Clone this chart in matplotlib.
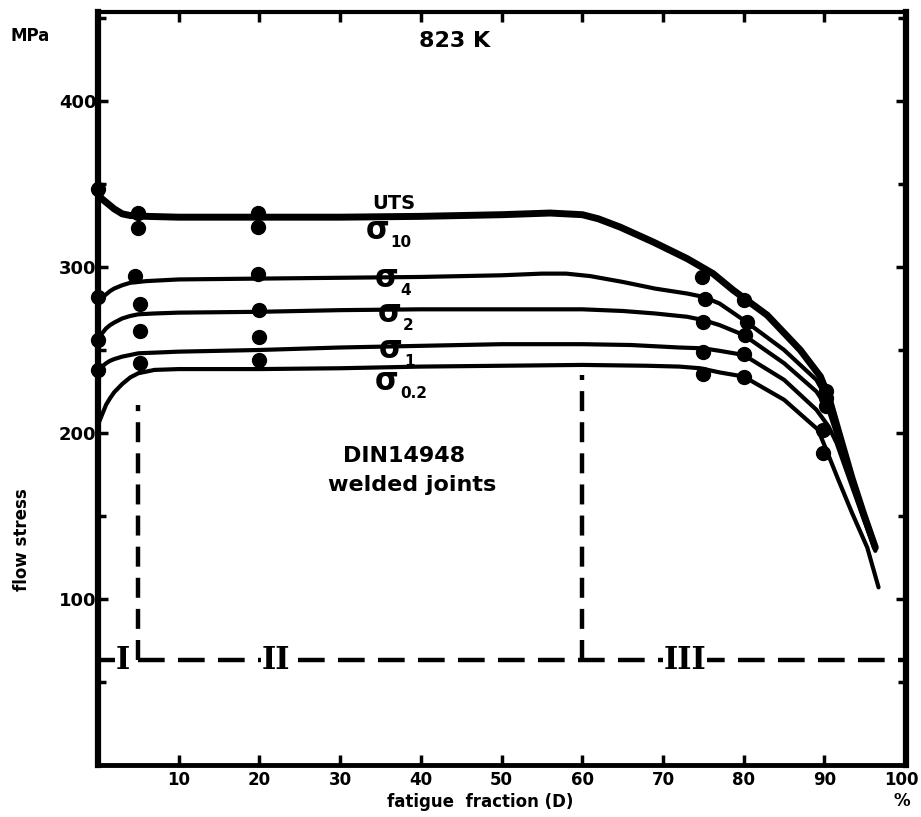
import numpy as np
import matplotlib.pyplot as plt
import matplotlib.transforms as mtransforms

# flow stress of DIN 1.4948 welded joints at 823 K vs. fatigue fraction D (%)
uts_x = [0, 0.5, 1, 1.5, 2, 3, 4, 6, 10, 20, 30, 40, 50, 56, 60, 62, 64.7, 68.8, 73,
         76.2, 78.7, 82.9, 87, 89.5, 90.5, 91.5, 93.4, 94.8, 96.3]
uts_y = [344, 341, 339, 337, 335, 332, 331, 330.5, 330, 330, 330, 330.5, 331.5, 332.5,
         331.5, 329, 324, 315, 305, 296, 286, 271, 250, 234, 222, 205, 173, 152, 131]

s4_x = [0, 0.5, 1, 1.5, 2, 3, 4, 6, 10, 20, 30, 40, 50, 55, 58, 61, 65, 69, 73, 75, 77,
        80, 85, 89, 90.5, 91.5, 93.4, 94.8, 96.3]
s4_y = [279, 281.5, 283.5, 285.5, 287, 289, 290.5, 291.5, 292.5, 293, 293.5, 294, 295, 296,
        296, 294.5, 291, 287, 284, 282, 278, 268, 250, 232, 219, 203, 172, 151, 130]

s2_x = [0, 0.5, 1, 1.5, 2, 3, 4, 5, 7, 10, 20, 30, 40, 50, 60, 65, 69, 73, 75, 77, 80,
        85, 89, 90.5, 91.5, 93.4, 94.8, 96.3]
s2_y = [256, 260, 263, 265, 266.5, 269, 270.5, 271.5, 272, 272.5, 273, 274, 274.5, 274.5,
        274.5, 273.5, 272, 270, 268, 265, 259, 242, 225, 214, 199, 170, 150, 129.5]

s1_x = [0, 0.5, 1, 1.5, 2, 3, 5, 10, 20, 30, 40, 50, 60, 66, 72, 75, 77, 80, 85, 89,
        90.5, 91.5, 93.4, 94.8, 96.3]
s1_y = [237, 240, 242, 243.5, 244.5, 246, 248, 249, 250, 251.5, 252.5, 253.5, 253.5, 253,
        251.5, 251, 249.5, 247, 232, 214, 204, 194, 168, 149, 129]

s02_x = [0, 0.5, 1, 1.5, 2, 3, 4, 5, 7, 10, 20, 30, 40, 50, 60, 68, 72, 74.6, 77, 80, 85,
         89.2, 90.3, 91.7, 93.4, 95.3, 96.7]
s02_y = [205, 211, 217, 221, 224.5, 229.5, 233.5, 236, 238, 238.5, 238.5, 239, 240, 240.5,
         241, 240.5, 240, 239, 236.5, 234, 220, 202, 189, 172, 152, 131, 107]

# measured points
dot_x = [0, 0, 0, 0,
         5, 5, 4.6, 5.2, 5.2, 5.2,
         19.8, 19.8, 19.8, 20, 20, 20,
         74.8, 75.2, 75, 75, 75,
         80, 80.4, 80.2, 80, 80,
         90.2, 90.2, 90.2, 89.8, 89.8]
dot_y = [347, 282, 256, 238,
         332.5, 323.5, 294.5, 277.7, 261.4, 242,
         332.5, 324, 296, 274, 258, 244,
         294, 281, 267, 249, 235.5,
         280, 267, 259, 247.5, 234,
         225, 221, 216, 202, 188]

# stage boundaries I / II / III
stage_y = 63
stage_x = [5, 60]
stage_top = [217, 235]
stage_names = ["I", "II", "III"]
stage_label_x = [3.1, 22, 72.7]

x_ticks = [10, 20, 30, 40, 50, 60, 70, 80, 90, 100]
y_ticks = [100, 200, 300, 400]

plt.rcParams["font.family"] = "DejaVu Sans"
plt.rcParams["font.weight"] = "bold"

fig = plt.figure(figsize=(9.21, 8.17), dpi=100)
ax = fig.add_axes([98 / 921, 52 / 817, 808 / 921, 753 / 817])

ax.plot(uts_x, uts_y, color="black", lw=5, solid_capstyle="round", solid_joinstyle="round")
for cx, cy in [(s4_x, s4_y), (s2_x, s2_y), (s1_x, s1_y), (s02_x, s02_y)]:
    ax.plot(cx, cy, color="black", lw=3, solid_capstyle="round", solid_joinstyle="round")
ax.plot(dot_x, dot_y, "o", color="black", ms=10, ls="none", clip_on=False, zorder=4)

# dashed stage lines
ax.plot([0, 100.1], [stage_y, stage_y], color="black", lw=3.2, dashes=(6, 3))
for sx, st in zip(stage_x, stage_top):
    ax.plot([sx, sx], [stage_y, st], color="black", lw=3.2, dashes=(4.5, 2.5))
for name, lx in zip(stage_names, stage_label_x):
    ax.text(lx, stage_y, name, fontsize=22, fontfamily="DejaVu Serif", fontweight="bold",
            ha="center", va="center",
            bbox=dict(facecolor="white", edgecolor="none", pad=0.5), zorder=5)

# curve labels
ax.text(36.6, 338.5, "UTS", fontsize=14, ha="center", va="center")
sig_labels = [("10", 34.6, 322), ("4", 35.8, 293), ("2", 36.1, 272),
              ("1", 36.3, 250), ("0.2", 35.8, 231)]
for sub, sx, sy in sig_labels:
    ax.text(sx, sy, "σ", fontsize=22, ha="center", va="center")
    ax.text(sx + 1.6, sy - 7, sub, fontsize=11, ha="left", va="center")

ax.text(37.9, 186, "DIN14948", fontsize=16, ha="center", va="center")
ax.text(38.9, 168.5, "welded joints", fontsize=16, ha="center", va="center")

ax.text(44.2, 436, "823 K", fontsize=16, ha="center", va="center")
ax.text(-8.4, 439, "MPa", fontsize=12, ha="center", va="center")
ax.text(99.6, -21.7, "%", fontsize=12, ha="center", va="center")
ax.text(47.3, -22.3, "fatigue  fraction (D)", fontsize=12, ha="center", va="center")
ax.text(-9.4, 135.5, "flow stress", fontsize=12, ha="center", va="center", rotation=90)

ax.set_xlim(0, 100.1)
ax.set_ylim(0, 453.6)
ax.set_xticks(x_ticks)
ax.set_xticklabels([str(v) for v in x_ticks])
ax.set_yticks(y_ticks)
ax.set_yticklabels([str(v) for v in y_ticks])
ax.set_yticks(np.arange(50, 451, 100), minor=True)
ax.tick_params(which="both", direction="in", top=True, right=True, width=2.5)
ax.tick_params(which="major", length=7, labelsize=13)
ax.tick_params(which="minor", length=6)
ax.tick_params(axis="x", pad=4, labelsize=12)
ax.tick_params(axis="y", pad=1)
for side, w in [("left", 4.5), ("right", 4.5), ("bottom", 3.5), ("top", 3)]:
    ax.spines[side].set_linewidth(w)

# keep the last x label inside the figure edge
last = ax.get_xticklabels()[-1]
last.set_transform(last.get_transform()
                   + mtransforms.ScaledTranslation(-4 / 100, 0, fig.dpi_scale_trans))

fig.savefig("out.png", dpi=100)
